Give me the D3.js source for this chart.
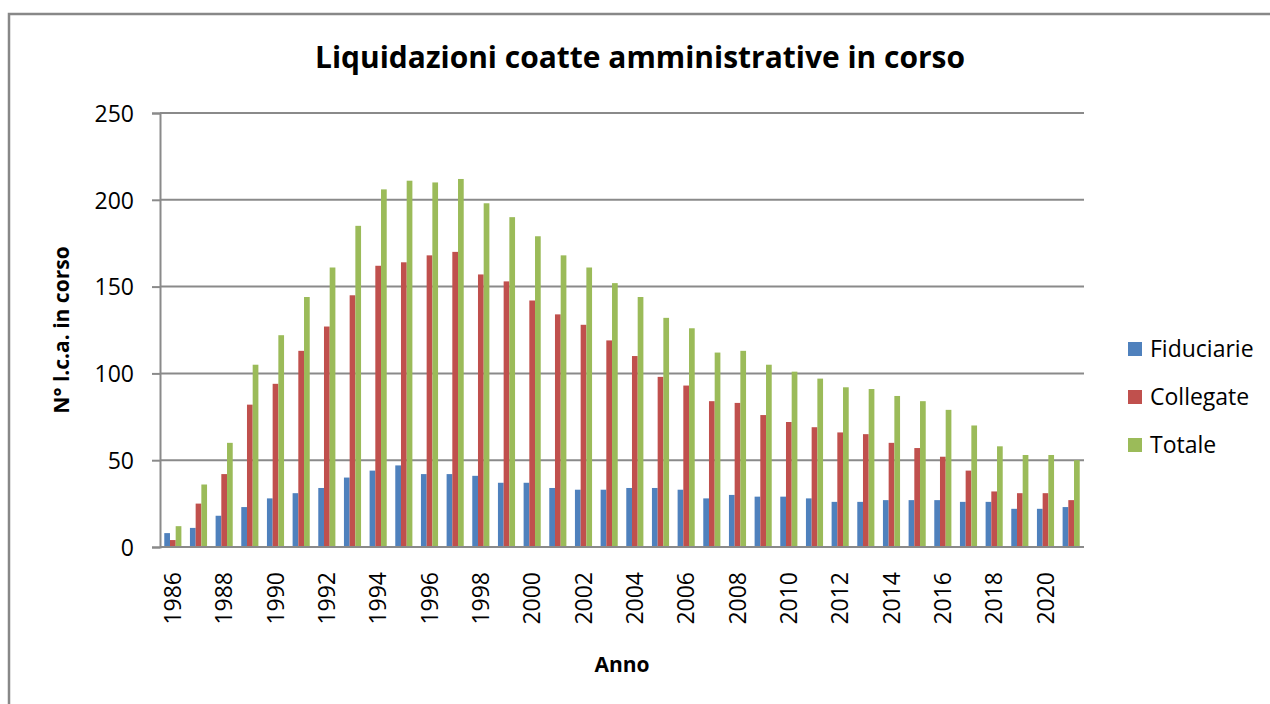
<!DOCTYPE html>
<html>
<head>
<title>Liquidazioni coatte amministrative in corso</title>
<script src="https://cdn.jsdelivr.net/npm/d3@7"></script>
<style>
	body { margin: 0; background: #fff; }
	text { font-family: "Open Sans", "DejaVu Sans", sans-serif; fill: #000; }
</style>
</head>
<body>
	<div id="chart"></div>

	<script>
		var anni = [1986, 1987, 1988, 1989, 1990, 1991, 1992, 1993, 1994, 1995, 1996, 1997,
			1998, 1999, 2000, 2001, 2002, 2003, 2004, 2005, 2006, 2007, 2008, 2009,
			2010, 2011, 2012, 2013, 2014, 2015, 2016, 2017, 2018, 2019, 2020, 2021];

		var fiduciarie = [8, 11, 18, 23, 28, 31, 34, 40, 44, 47, 42, 42,
			41, 37, 37, 34, 33, 33, 34, 34, 33, 28, 30, 29,
			29, 28, 26, 26, 27, 27, 27, 26, 26, 22, 22, 23];

		var collegate = [4, 25, 42, 82, 94, 113, 127, 145, 162, 164, 168, 170,
			157, 153, 142, 134, 128, 119, 110, 98, 93, 84, 83, 76,
			72, 69, 66, 65, 60, 57, 52, 44, 32, 31, 31, 27];

		var totale = [12, 36, 60, 105, 122, 144, 161, 185, 206, 211, 210, 212,
			198, 190, 179, 168, 161, 152, 144, 132, 126, 112, 113, 105,
			101, 97, 92, 91, 87, 84, 79, 70, 58, 53, 53, 50];

		var serie = ['Fiduciarie', 'Collegate', 'Totale'];
		var valori = [fiduciarie, collegate, totale];
		var colori = ['#4f81bd', '#c0504d', '#9bbb59'];
		var yTicks = [0, 50, 100, 150, 200, 250];
		var xLabels = anni.filter(function(d, i) { return i % 2 === 0; });

		var width = 1270,
			height = 704,
			plotLeft = 160,
			plotRight = 1084,
			plotTop = 113,
			plotBottom = 547;

		var svg = d3.select('#chart').append('svg')
			.attr('width', width)
			.attr('height', height);

		// chart frame, runs off the right and bottom of the picture
		svg.append('rect')
			.attr('x', 9)
			.attr('y', 14)
			.attr('width', 1400)
			.attr('height', 900)
			.attr('fill', '#fff')
			.attr('stroke', '#888')
			.attr('stroke-width', 2.5);

		var x0 = d3.scaleBand()
			.domain(anni)
			.range([plotLeft, plotRight])
			.paddingInner(1 / 3)
			.paddingOuter(1 / 6);

		var x1 = d3.scaleBand()
			.domain(serie)
			.range([0, x0.bandwidth()]);

		var y = d3.scaleLinear()
			.domain([0, 250])
			.range([plotBottom, plotTop]);

		// gridlines
		svg.append('g')
			.selectAll('line')
			.data(yTicks.slice(1))
			.enter()
			.append('line')
			.attr('x1', plotLeft)
			.attr('x2', plotRight)
			.attr('y1', function(d) { return y(d); })
			.attr('y2', function(d) { return y(d); })
			.attr('stroke', '#8a8a8a')
			.attr('stroke-width', 2);

		// y axis
		var yAxis = d3.axisLeft(y)
			.tickValues(yTicks)
			.tickSize(8)
			.tickPadding(18);

		var gy = svg.append('g')
			.attr('transform', 'translate(' + plotLeft + ',0)')
			.call(yAxis);
		gy.select('.domain').attr('stroke', '#8a8a8a').attr('stroke-width', 2);
		gy.selectAll('.tick line').attr('stroke', '#8a8a8a').attr('stroke-width', 2);
		gy.selectAll('.tick text')
			.attr('font-size', 23)
			.attr('font-family', '"Open Sans", sans-serif')
			.attr('fill', '#000')
			.attr('dy', '0.36em');

		// bars
		var gruppi = svg.append('g')
			.selectAll('g')
			.data(anni)
			.enter()
			.append('g')
			.attr('transform', function(d) { return 'translate(' + x0(d) + ',0)'; });

		gruppi.selectAll('rect')
			.data(function(d, i) {
				return serie.map(function(s, j) { return { serie: s, valore: valori[j][i], colore: colori[j] }; });
			})
			.enter()
			.append('rect')
			.attr('x', function(d) { return x1(d.serie); })
			.attr('width', x1.bandwidth())
			.attr('y', function(d) { return y(d.valore); })
			.attr('height', function(d) { return plotBottom - y(d.valore); })
			.attr('fill', function(d) { return d.colore; });

		// x axis line
		svg.append('line')
			.attr('x1', plotLeft)
			.attr('x2', plotRight)
			.attr('y1', plotBottom)
			.attr('y2', plotBottom)
			.attr('stroke', '#8a8a8a')
			.attr('stroke-width', 2);

		// x labels, every other year
		svg.append('g')
			.selectAll('text')
			.data(xLabels)
			.enter()
			.append('text')
			.attr('transform', function(d) {
				return 'translate(' + (x0(d) + x0.bandwidth() / 2 + 8) + ',572) rotate(-90)';
			})
			.attr('text-anchor', 'end')
			.attr('font-size', 23)
			.text(function(d) { return d; });

		// titles
		svg.append('text')
			.attr('x', 640)
			.attr('y', 68)
			.attr('text-anchor', 'middle')
			.attr('font-size', 31)
			.attr('font-weight', 'bold')
			.attr('textLength', 650)
			.attr('lengthAdjust', 'spacingAndGlyphs')
			.text('Liquidazioni coatte amministrative in corso');

		svg.append('text')
			.attr('transform', 'translate(69,' + (plotTop + plotBottom) / 2 + ') rotate(-90)')
			.attr('text-anchor', 'middle')
			.attr('font-size', 21)
			.attr('font-weight', 'bold')
			.text('N° l.c.a. in corso');

		svg.append('text')
			.attr('x', (plotLeft + plotRight) / 2)
			.attr('y', 672)
			.attr('text-anchor', 'middle')
			.attr('font-size', 21)
			.attr('font-weight', 'bold')
			.text('Anno');

		// legend
		var legenda = svg.append('g')
			.selectAll('g')
			.data(serie)
			.enter()
			.append('g')
			.attr('transform', function(d, i) { return 'translate(1128,' + (349 + i * 48) + ')'; });

		legenda.append('rect')
			.attr('x', 0)
			.attr('y', -7)
			.attr('width', 14)
			.attr('height', 14)
			.attr('fill', function(d, i) { return colori[i]; });

		legenda.append('text')
			.attr('x', 22)
			.attr('dy', '0.36em')
			.attr('font-size', 23)
			.text(function(d) { return d; });
	</script>
</body>
</html>
